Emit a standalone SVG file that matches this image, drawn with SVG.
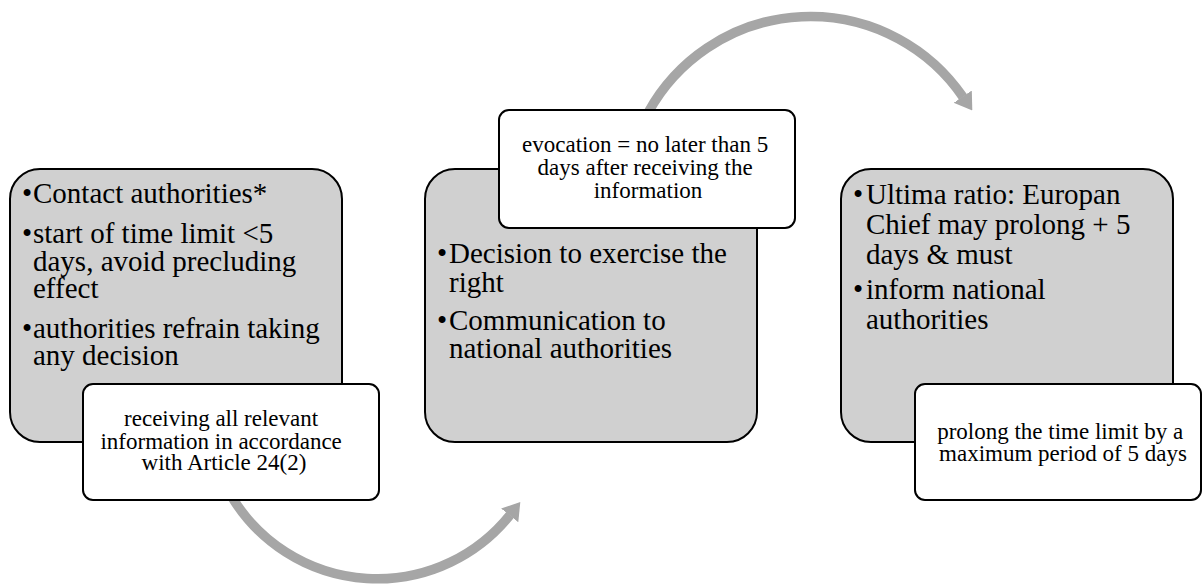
<svg xmlns="http://www.w3.org/2000/svg" width="1203" height="585" viewBox="0 0 1203 585">
  <style>
    .gray { fill: #d0d0d0; stroke: #000; stroke-width: 2; }
    .white { fill: #ffffff; stroke: #000; stroke-width: 2; }
    text { font-family: 'Liberation Serif', 'Times New Roman', serif; fill: #000; }
    .big { font-size: 29px; }
    .small { font-size: 23px; text-anchor: middle; }
    .arc { fill: none; stroke: #a6a6a6; stroke-width: 9.5; }
  </style>
  <defs>
    <marker id="ah" markerUnits="userSpaceOnUse" viewBox="0 0 17 24" markerWidth="17" markerHeight="24" refX="0.5" refY="12" orient="auto">
      <path d="M0,1 L17,12 L0,23 Z" fill="#a6a6a6"/>
    </marker>
  </defs>

  <g id="connectors">
    <path class="arc" d="M232.5,498 A170,170 0 0 0 510,515" marker-end="url(#ah)"/>
    <path class="arc" d="M648.4,112 A185,185 0 0 1 963,97" marker-end="url(#ah)"/>
  </g>

  <g id="node1">
    <rect class="gray" x="10" y="169" width="332" height="273" rx="30" ry="30"/>
    <text class="big">
      <tspan x="22" y="203">•</tspan><tspan x="33" y="203">Contact authorities*</tspan>
      <tspan x="22" y="243">•</tspan><tspan x="33" y="243">start of time limit &lt;5</tspan>
      <tspan x="33" y="270.5">days, avoid precluding</tspan>
      <tspan x="33" y="298">effect</tspan>
      <tspan x="22" y="338">•</tspan><tspan x="33" y="338">authorities refrain taking</tspan>
      <tspan x="33" y="365">any decision</tspan>
    </text>
  </g>
  <g id="note1">
    <rect class="white" x="83" y="384" width="296" height="116" rx="10" ry="10"/>
    <text class="small">
      <tspan x="224" y="426">receiving all relevant</tspan>
      <tspan x="224" y="448.5">information in accordance</tspan>
      <tspan x="224" y="470">with Article 24(2)</tspan>
    </text>
  </g>

  <g id="node2">
    <rect class="gray" x="425" y="169" width="332" height="273" rx="30" ry="30"/>
    <text class="big">
      <tspan x="437" y="263">•</tspan><tspan x="449" y="263">Decision to exercise the</tspan>
      <tspan x="449" y="291.5">right</tspan>
      <tspan x="437" y="330">•</tspan><tspan x="449" y="330">Communication to</tspan>
      <tspan x="449" y="358">national authorities</tspan>
    </text>
  </g>
  <g id="note2">
    <rect class="white" x="499" y="110" width="296" height="118" rx="10" ry="10"/>
    <text class="small">
      <tspan x="648" y="152">evocation = no later than 5</tspan>
      <tspan x="648" y="175">days after receiving the</tspan>
      <tspan x="648" y="198">information</tspan>
    </text>
  </g>

  <g id="node3">
    <rect class="gray" x="841" y="169" width="332" height="273" rx="30" ry="30"/>
    <text class="big">
      <tspan x="853" y="203.5">•</tspan><tspan x="866" y="203.5">Ultima ratio: Europan</tspan>
      <tspan x="866" y="234">Chief may prolong + 5</tspan>
      <tspan x="866" y="264">days &amp; must</tspan>
      <tspan x="853" y="298.5">•</tspan><tspan x="866" y="298.5">inform national</tspan>
      <tspan x="866" y="328.5">authorities</tspan>
    </text>
  </g>
  <g id="note3">
    <rect class="white" x="915" y="384" width="286" height="116" rx="10" ry="10"/>
    <text class="small">
      <tspan x="1063" y="438.5">prolong the time limit by a</tspan>
      <tspan x="1063" y="461">maximum period of 5 days</tspan>
    </text>
  </g>
</svg>
